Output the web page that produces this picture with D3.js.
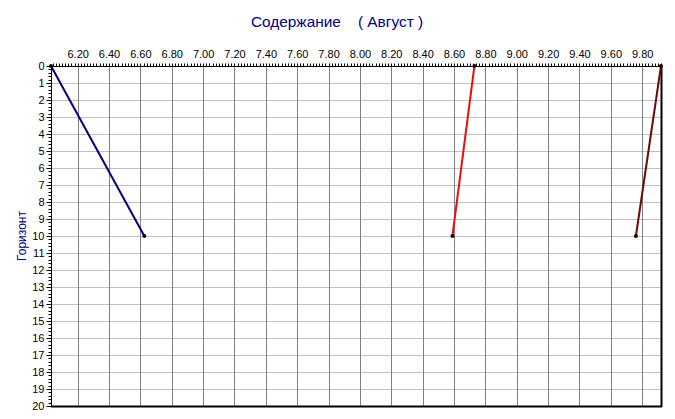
<!DOCTYPE html>
<html><head><meta charset="utf-8">
<script src="https://cdn.jsdelivr.net/npm/d3@7"></script>
<style>html,body{margin:0;padding:0;background:#fff;}svg{display:block;}</style>
</head><body>
<svg id="c" width="675" height="419"></svg>
<script>
const title = "Содержание    ( Август )";
const yLabel = "Горизонт";
const xTicks = [6.2,6.4,6.6,6.8,7.0,7.2,7.4,7.6,7.8,8.0,8.2,8.4,8.6,8.8,9.0,9.2,9.4,9.6,9.8];
const yTicks = d3.range(0, 21);
const xDomain = [6.03, 9.92];
const yDomain = [0, 20];
const seriesColors = ["#000080", "#e81010", "#6a0a0a"];
const series1 = [{x: 6.03, d: 0}, {x: 6.625, d: 10}];
const series2 = [{x: 8.73, d: 0}, {x: 8.59, d: 10}];
const series3 = [{x: 9.92, d: 0}, {x: 9.76, d: 10}];
const allSeries = [series1, series2, series3];

const svg = d3.select("#c");
const m = {l: 51, t: 66, r: 661, b: 406};
const x = d3.scaleLinear().domain(xDomain).range([m.l, m.r]);
const y = d3.scaleLinear().domain(yDomain).range([m.t, m.b]);
const font = "Liberation Sans, Arial, sans-serif";

svg.append("text").attr("x", 337).attr("y", 27).attr("text-anchor", "middle")
  .attr("font-family", font).attr("font-size", 15.4).attr("fill", "#000080")
  .attr("xml:space", "preserve").text(title);

svg.append("text").attr("transform", `translate(26,${(m.t + m.b) / 2}) rotate(-90)`)
  .attr("text-anchor", "middle").attr("font-family", font).attr("font-size", 12)
  .attr("fill", "#000080").text(yLabel);

const g = svg.append("g");
g.selectAll(".hg").data(yTicks.filter(v => v > 0 && v < 20)).enter().append("line")
  .attr("x1", m.l).attr("x2", m.r)
  .attr("y1", d => Math.round(y(d)) + 0.5).attr("y2", d => Math.round(y(d)) + 0.5)
  .attr("stroke", "#c0c0c0").attr("stroke-width", 1);
g.selectAll(".vg").data(xTicks).enter().append("line")
  .attr("x1", d => Math.round(x(d)) + 0.5).attr("x2", d => Math.round(x(d)) + 0.5)
  .attr("y1", m.t).attr("y2", m.b)
  .attr("stroke", "#808080").attr("stroke-width", 1);

const minorX = d3.range(6.04, 9.921, 0.02);
const topAx = svg.append("g").attr("transform", `translate(0,${m.t + 0.5})`)
  .call(d3.axisTop(x).tickValues(minorX).tickSize(3).tickFormat(""));
topAx.select(".domain").remove();
topAx.selectAll(".tick").attr("transform", d => `translate(${Math.round(x(d)) + 0.5},0)`);
topAx.selectAll("line").attr("stroke", "#000");
const topLab = svg.append("g").attr("transform", `translate(0,${m.t + 0.5})`)
  .call(d3.axisTop(x).tickValues(xTicks).tickSize(0).tickPadding(9).tickFormat(d3.format(".2f")));
topLab.select(".domain").remove();
topLab.selectAll("text").attr("font-family", font).attr("font-size", 11).attr("fill", "#000");

const minorY = d3.range(0, 20.001, 0.2);
const leftAx = svg.append("g").attr("transform", `translate(${m.l + 0.5},0)`)
  .call(d3.axisLeft(y).tickValues(minorY).tickSize(3).tickFormat(""));
leftAx.select(".domain").remove();
leftAx.selectAll(".tick").attr("transform", d => `translate(0,${Math.round(y(d)) + 0.5})`);
leftAx.selectAll("line").attr("stroke", "#000");
const leftMaj = svg.append("g").attr("transform", `translate(${m.l + 0.5},0)`)
  .call(d3.axisLeft(y).tickValues(yTicks).tickSize(5).tickPadding(2).tickFormat(d3.format("d")));
leftMaj.select(".domain").remove();
leftMaj.selectAll(".tick").attr("transform", d => `translate(0,${Math.round(y(d)) + 0.5})`);
leftMaj.selectAll("line").attr("stroke", "#000");
leftMaj.selectAll("text").attr("font-family", font).attr("font-size", 11).attr("fill", "#000");

svg.append("line").attr("x1", m.l + 0.5).attr("x2", m.l + 0.5).attr("y1", m.t).attr("y2", m.b + 1).attr("stroke", "#000");
svg.append("line").attr("x1", m.l).attr("x2", m.r + 1).attr("y1", m.t + 0.5).attr("y2", m.t + 0.5).attr("stroke", "#000");
svg.append("line").attr("x1", m.l).attr("x2", m.r + 1).attr("y1", m.b + 0.5).attr("y2", m.b + 0.5).attr("stroke", "#000").attr("stroke-width", 2);
svg.append("line").attr("x1", m.r + 0.5).attr("x2", m.r + 0.5).attr("y1", m.t).attr("y2", m.b + 1).attr("stroke", "#000").attr("stroke-width", 2);

const line = d3.line().x(d => x(d.x)).y(d => y(d.d));
allSeries.forEach((s, i) => {
  svg.append("path").datum(s).attr("d", line).attr("fill", "none")
    .attr("stroke", seriesColors[i]).attr("stroke-width", 2);
  svg.selectAll(".pt" + i).data(s).enter().append("circle")
    .attr("cx", d => x(d.x)).attr("cy", d => y(d.d)).attr("r", 2)
    .attr("fill", "#200000");
});
</script>
</body></html>
